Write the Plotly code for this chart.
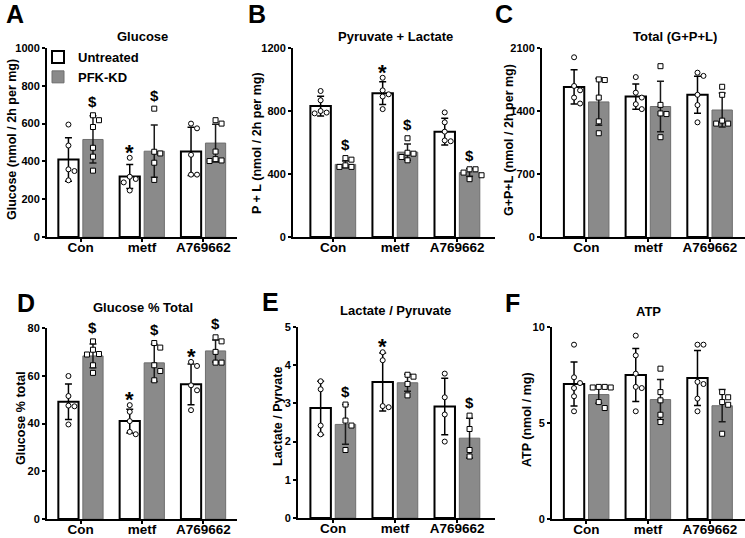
import numpy as np
import plotly.graph_objects as go

W, H = 745, 538
FONT = "Liberation Sans, Arial, sans-serif"

# ---------------- data ----------------
categories = ["Con", "metf", "A769662"]
series_names = ["Untreated", "PFK-KD"]

# A  Glucose (nmol / 2h per mg)
glc_mean_U = [410, 320, 453]
glc_sd_U = [115, 64, 128]
glc_mean_K = [516, 454, 497]
glc_sd_K = [125, 138, 100]
glc_pts_U = [[595, 484, 358, 349, 300], [419, 319, 307, 289, 246], [600, 575, 435, 330, 330]]
glc_pts_K = [[644, 618, 582, 472, 425, 351], [679, 451, 442, 393, 302], [618, 600, 452, 412, 405, 402]]

# B  Pyruvate + Lactate
pl_mean_U = [831, 913, 669]
pl_sd_U = [62, 72, 85]
pl_mean_K = [461, 539, 409]
pl_sd_K = [22, 52, 24]
pl_pts_U = [[927, 868, 800, 790, 785], [1011, 931, 906, 892, 812], [791, 728, 669, 613, 608]]
pl_pts_K = [[501, 491, 455, 445, 445], [627, 535, 529, 508, 487], [430, 430, 409, 392, 367]]

# C  Total (G+P+L)
tot_mean_U = [1667, 1560, 1580]
tot_sd_U = [190, 140, 205]
tot_mean_K = [1501, 1450, 1411]
tot_sd_K = [260, 280, 190]
tot_pts_U = [[1997, 1678, 1630, 1549, 1483], [1777, 1604, 1549, 1476, 1421], [1826, 1790, 1580, 1466, 1274]]
tot_pts_K = [[1751, 1744, 1549, 1285, 1153], [1898, 1468, 1373, 1366, 1109], [1669, 1580, 1293, 1260, 1260]]

# D  Glucose % Total
pct_mean_U = [49.1, 41.0, 56.4]
pct_sd_U = [7.4, 5.0, 8.5]
pct_mean_K = [68.3, 65.4, 70.4]
pct_sd_K = [5.0, 7.8, 4.6]
pct_pts_U = [[59.9, 51.5, 47.5, 47.2, 39.6], [47.7, 44.9, 41.0, 36.5, 35.5], [65.8, 64.1, 56.0, 53.9, 45.6]]
pct_pts_K = [[74.4, 70.9, 69.1, 68.9, 64.4, 61.2], [73.7, 71.8, 64.4, 62.0, 58.1], [76.1, 74.4, 70.0, 65.5, 65.5]]

# E  Lactate / Pyruvate
lp_mean_U = [2.88, 3.56, 2.92]
lp_sd_U = [0.70, 0.76, 0.74]
lp_mean_K = [2.45, 3.54, 2.09]
lp_sd_K = [0.52, 0.22, 0.52]
lp_pts_U = [[3.58, 3.37, 2.42, 2.19], [4.34, 4.13, 2.93, 2.90], [3.78, 3.16, 2.71, 2.00]]
lp_pts_K = [[2.97, 2.55, 2.42, 1.78], [3.75, 3.70, 3.51, 3.21], [2.68, 2.33, 1.78, 1.61]]

# F  ATP (nmol / mg)
atp_mean_U = [7.03, 7.50, 7.34]
atp_sd_U = [1.15, 1.38, 1.43]
atp_mean_K = [6.48, 6.22, 5.90]
atp_sd_K = [0.45, 1.05, 0.84]
atp_pts_U = [[9.08, 7.38, 7.08, 6.82, 6.39, 5.61], [9.55, 8.52, 7.57, 6.88, 6.82, 5.61], [9.08, 9.08, 7.14, 7.03, 6.27, 5.61]]
atp_pts_K = [[6.88, 6.88, 6.85, 6.85, 6.09, 5.78], [7.83, 6.61, 6.18, 5.43, 5.05], [6.61, 6.34, 6.09, 5.95, 4.44]]

# significance marks: (category index, series index 0=Untreated 1=PFK-KD, symbol)
sig_A = [(0, 1, "$"), (1, 0, "*"), (1, 1, "$")]
sig_B = [(0, 1, "$"), (1, 0, "*"), (1, 1, "$"), (2, 1, "$")]
sig_C = []
sig_D = [(0, 1, "$"), (1, 0, "*"), (1, 1, "$"), (2, 0, "*"), (2, 1, "$")]
sig_E = [(0, 1, "$"), (1, 0, "*"), (2, 1, "$")]
sig_F = []

# ---------------- layout (pixel geometry) ----------------
panels = [
    dict(letter="A", title="Glucose", ytitle="Glucose (nmol / 2h per mg)",
         mU=glc_mean_U, sU=glc_sd_U, mK=glc_mean_K, sK=glc_sd_K, pU=glc_pts_U, pK=glc_pts_K, sig=sig_A,
         ymax=1000, ytv=[0, 200, 400, 600, 800, 1000],
         xpx=(47, 237), ypx=(48, 237), xr=(-0.55, 2.55),
         letter_xy=(4, -2), title_xy=(142, 37), ytitle_xy=(12, 140)),
    dict(letter="B", title="Pyruvate + Lactate", ytitle="P + L (nmol / 2h per mg)",
         mU=pl_mean_U, sU=pl_sd_U, mK=pl_mean_K, sK=pl_sd_K, pU=pl_pts_U, pK=pl_pts_K, sig=sig_B,
         ymax=1200, ytv=[0, 400, 800, 1200],
         xpx=(293, 495), ypx=(48, 237), xr=(-0.645, 2.61),
         letter_xy=(246, -2), title_xy=(395, 37), ytitle_xy=(257, 143)),
    dict(letter="C", title="Total (G+P+L)", ytitle="G+P+L (nmol / 2h per mg)",
         mU=tot_mean_U, sU=tot_sd_U, mK=tot_mean_K, sK=tot_sd_K, pU=tot_pts_U, pK=tot_pts_K, sig=sig_C,
         ymax=2100, ytv=[0, 700, 1400, 2100],
         xpx=(542, 745), ypx=(48, 237), xr=(-0.72, 2.57),
         letter_xy=(493, -2), title_xy=(675, 37), ytitle_xy=(509, 140)),
    dict(letter="D", title="Glucose % Total", ytitle="Glucose % total",
         mU=pct_mean_U, sU=pct_sd_U, mK=pct_mean_K, sK=pct_sd_K, pU=pct_pts_U, pK=pct_pts_K, sig=sig_D,
         ymax=80, ytv=[0, 20, 40, 60, 80],
         xpx=(47, 237), ypx=(328, 519), xr=(-0.55, 2.55),
         letter_xy=(15, 287), title_xy=(143, 307), ytitle_xy=(21, 418)),
    dict(letter="E", title="Lactate / Pyruvate", ytitle="Lactate / Pyrvate",
         mU=lp_mean_U, sU=lp_sd_U, mK=lp_mean_K, sK=lp_sd_K, pU=lp_pts_U, pK=lp_pts_K, sig=sig_E,
         ymax=5, ytv=[0, 1, 2, 3, 4, 5],
         xpx=(298, 495), ypx=(327, 518), xr=(-0.565, 2.61),
         letter_xy=(260, 286), title_xy=(395, 310), ytitle_xy=(278, 417)),
    dict(letter="F", title="ATP", ytitle="ATP (nmol / mg)",
         mU=atp_mean_U, sU=atp_sd_U, mK=atp_mean_K, sK=atp_sd_K, pU=atp_pts_U, pK=atp_pts_K, sig=sig_F,
         ymax=10, ytv=[0, 5, 10],
         xpx=(552, 745), ypx=(327, 519), xr=(-0.557, 2.57),
         letter_xy=(503, 287), title_xy=(648, 311), ytitle_xy=(527, 420)),
]

BAR_OFF = 0.2
BAR_W = 0.33
GRAY = "#8a8a8a"


def swarm(vals, px_per_y, px_per_x, diam=6.0, step_px=6.0):
    """simple beeswarm: horizontal offsets (data units) that avoid overlap"""
    order = np.argsort(vals)[::-1]
    placed = []
    offs = np.zeros(len(vals))
    cands = [0]
    for k in range(1, 6):
        cands += [k * step_px, -k * step_px]
    for i in order:
        ypx = vals[i] * px_per_y
        for c in cands:
            if all(np.hypot(c - pc, ypx - py) >= diam for pc, py in placed):
                break
        placed.append((c, ypx))
        offs[i] = c / px_per_x
    return offs


fig = go.Figure()
annotations = []

for k, p in enumerate(panels):
    xa = "x" if k == 0 else f"x{k+1}"
    ya = "y" if k == 0 else f"y{k+1}"
    x0, x1 = p["xpx"]
    y0, y1 = p["ypx"]
    px_per_x = (x1 - x0) / (p["xr"][1] - p["xr"][0])
    px_per_y = (y1 - y0) / p["ymax"]

    series = [
        (p["mU"], p["sU"], p["pU"], -BAR_OFF, "white", "black", 2, "circle", "black"),
        (p["mK"], p["sK"], p["pK"], BAR_OFF, GRAY, "#6e6e6e", 1, "square", "#1a1a1a"),
    ]
    for si, (m, s, pts, off, fc, lc, lw, sym, ec) in enumerate(series):
        xs = [i + off for i in range(len(categories))]
        fig.add_trace(go.Bar(
            x=xs, y=m, width=BAR_W, name=series_names[si],
            marker=dict(color=fc, line=dict(color=lc, width=lw)),
            error_y=dict(type="data", array=s, visible=True, color=ec, thickness=1.5, width=3.5),
            showlegend=(k == 0), legendgroup=series_names[si],
            xaxis=xa, yaxis=ya, hoverinfo="skip",
        ))
        px_, py_ = [], []
        for i, grp in enumerate(pts):
            offs = swarm(np.array(grp, float), px_per_y, px_per_x)
            px_ += list(i + off + offs)
            py_ += list(grp)
        fig.add_trace(go.Scatter(
            x=px_, y=py_, mode="markers", showlegend=False,
            marker=dict(symbol=sym, size=5, color="white", line=dict(color="black", width=1)),
            xaxis=xa, yaxis=ya, hoverinfo="skip",
        ))

    # significance marks
    for (ci, si, txt) in p["sig"]:
        m = (p["mU"], p["mK"])[si][ci]
        s = (p["sU"], p["sK"])[si][ci]
        pts = (p["pU"], p["pK"])[si][ci]
        top = max(m + s, max(pts))
        annotations.append(dict(
            x=ci + (-BAR_OFF if si == 0 else BAR_OFF), y=top, xref=xa, yref=ya,
            text=txt, showarrow=False, xanchor="center", yanchor="bottom",
            yshift=(-9 if txt == "*" else 3),
            font=dict(family=FONT, size=(22 if txt == "*" else 15), color="black", weight="bold"),
        ))

    # axes
    fig.update_layout(**{
        ("xaxis" if k == 0 else f"xaxis{k+1}"): dict(
            domain=[x0 / W, x1 / W], range=list(p["xr"]), anchor=ya, automargin=False,
            tickvals=list(range(len(categories))), ticktext=categories,
            showline=True, linecolor="black", linewidth=2,
            ticks="outside", ticklen=3, tickwidth=1.5, tickcolor="black",
            ticklabelstandoff=-6,
            showgrid=False, zeroline=False,
            tickfont=dict(family=FONT, size=13.5, color="black", weight="bold"),
        ),
        ("yaxis" if k == 0 else f"yaxis{k+1}"): dict(
            domain=[1 - y1 / H, 1 - y0 / H], range=[0, p["ymax"]], anchor=xa, automargin=False,
            tickvals=p["ytv"], ticks="outside", ticklen=3, tickwidth=1.5, tickcolor="black",
            showline=True, linecolor="black", linewidth=2,
            showgrid=False, zeroline=False,
            tickfont=dict(family=FONT, size=11, color="black", weight="bold"),
        ),
    })

    # panel letter, title, y title
    lx, ly = p["letter_xy"]
    annotations.append(dict(
        x=lx / W, y=1 - ly / H, xref="paper", yref="paper", text=p["letter"], showarrow=False,
        xanchor="left", yanchor="top", font=dict(family=FONT, size=25, color="black", weight="bold")))
    tx, ty = p["title_xy"]
    annotations.append(dict(
        x=tx / W, y=1 - ty / H, xref="paper", yref="paper", text=p["title"], showarrow=False,
        xanchor="center", yanchor="middle", font=dict(family=FONT, size=13, color="black", weight="bold")))
    yx, yy = p["ytitle_xy"]
    annotations.append(dict(
        x=yx / W, y=1 - yy / H, xref="paper", yref="paper", text=p["ytitle"], showarrow=False,
        textangle=-90, xanchor="center", yanchor="middle",
        font=dict(family=FONT, size=12.5, color="black", weight="bold")))

fig.update_layout(
    width=W, height=H, margin=dict(l=0, r=0, t=0, b=0, autoexpand=False),
    paper_bgcolor="white", plot_bgcolor="white",
    barmode="overlay", annotations=annotations,
    legend=dict(x=38 / W, y=1 - 42 / H, xanchor="left", yanchor="top",
                bgcolor="rgba(0,0,0,0)", itemwidth=30, tracegroupgap=0,
                font=dict(family=FONT, size=13, color="black", weight="bold")),
)

fig.write_html("out.html", config={"displayModeBar": False},
               post_script="document.body.style.margin='0';document.body.style.overflow='hidden';")
